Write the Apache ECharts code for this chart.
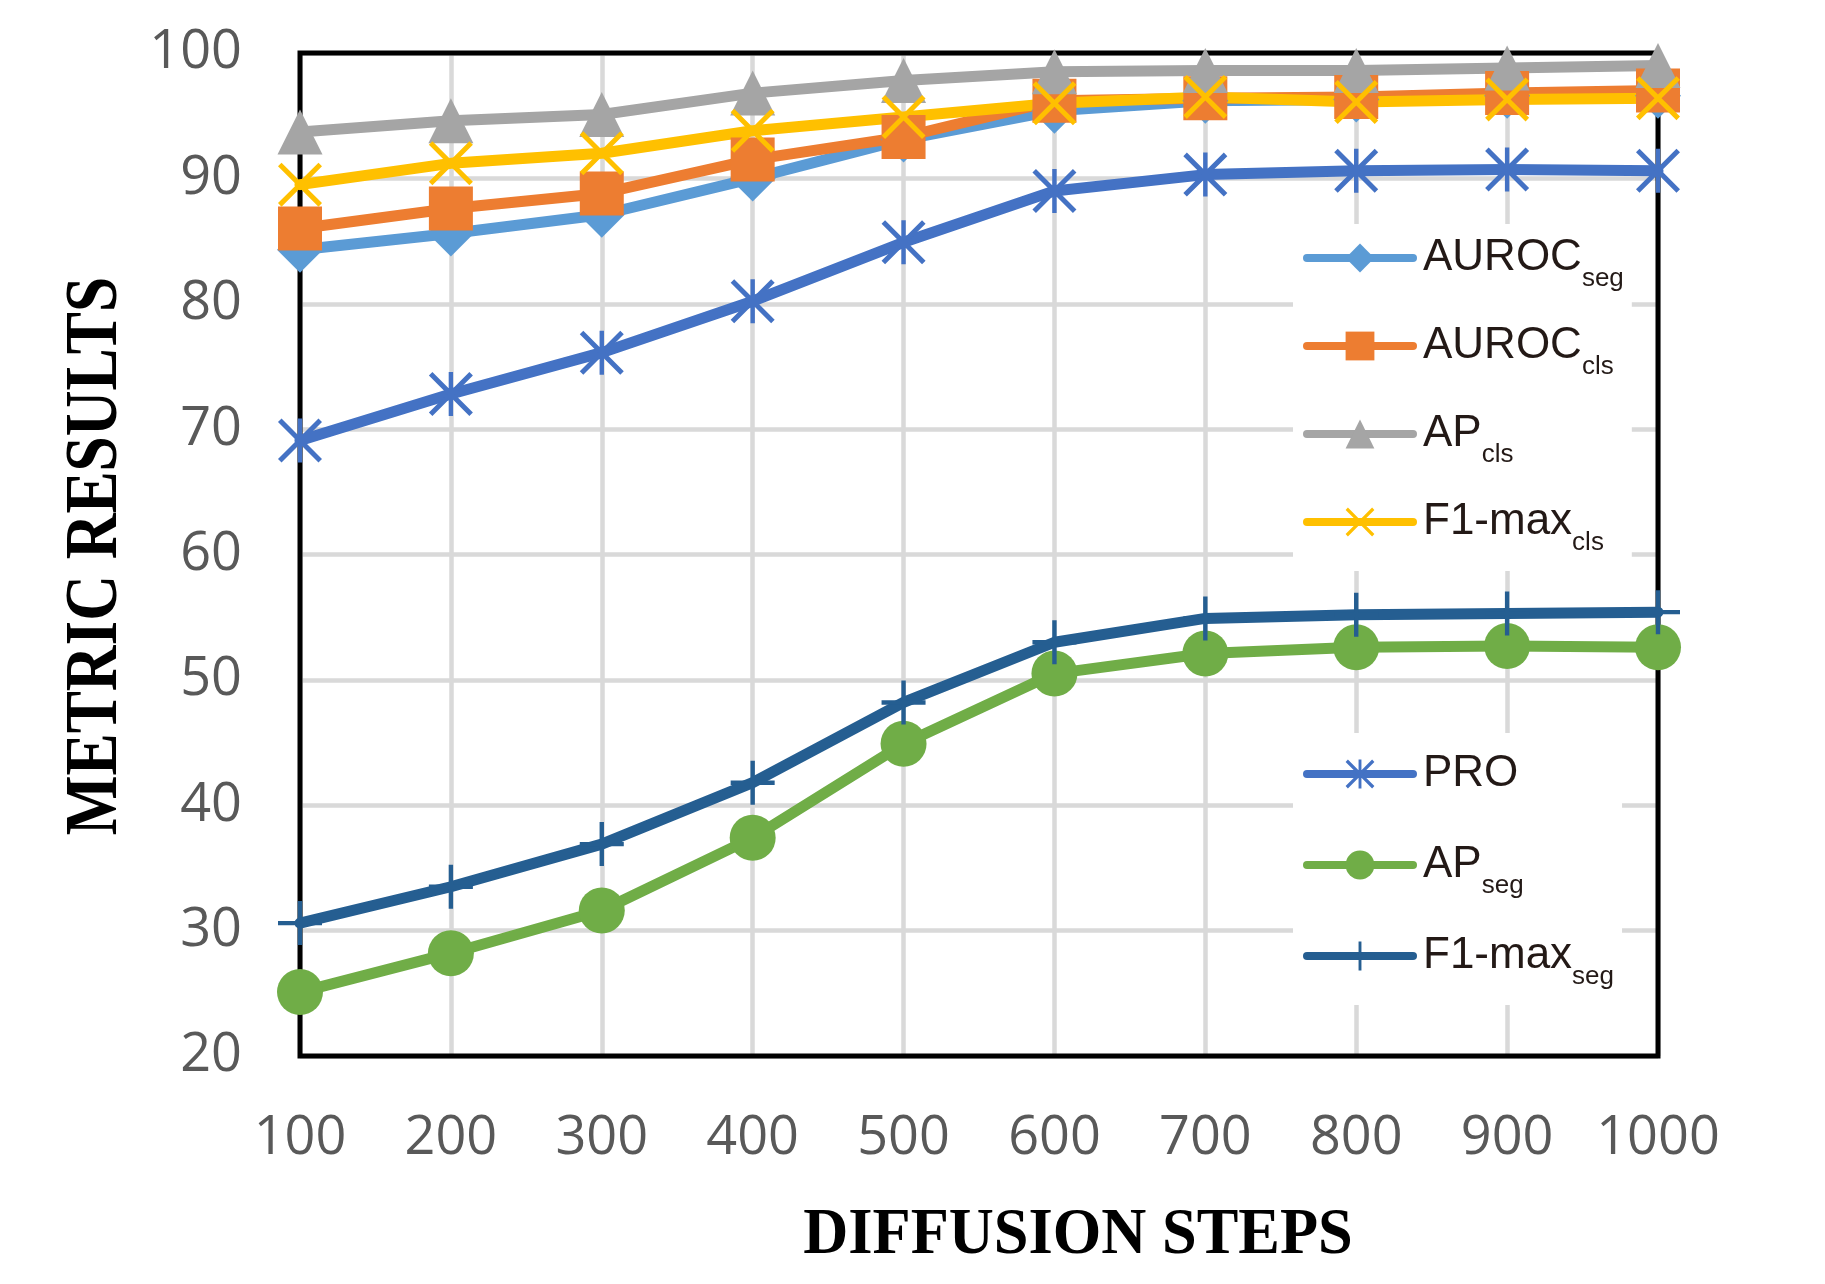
<!DOCTYPE html>
<html>
<head>
<meta charset="utf-8">
<script src="https://cdn.jsdelivr.net/npm/echarts@6/dist/echarts.min.js"></script>
<style>
  html, body { margin: 0; padding: 0; background: #fff; }
  #main { width: 1825px; height: 1284px; }
</style>
</head>
<body>
<div id="main"></div>
<script>
// diffusion steps on the x axis
var steps = ['100', '200', '300', '400', '500', '600', '700', '800', '900', '1000'];
var yTicks = [20, 100, 10]; // min, max, interval

// series values
var aurocSeg  = [84.3, 85.6, 87.1, 90.0, 93.1, 95.4, 96.2, 96.3, 96.6, 96.6];
var aurocCls  = [86.0, 87.6, 88.8, 91.5, 93.3, 96.2, 96.4, 96.5, 96.8, 97.0];
var apCls     = [93.7, 94.6, 95.1, 96.8, 97.8, 98.5, 98.6, 98.6, 98.8, 99.0];
var f1maxCls  = [89.5, 91.2, 92.0, 93.8, 94.9, 96.0, 96.5, 96.1, 96.3, 96.4];
var pro       = [69.1, 72.8, 76.1, 80.2, 84.9, 89.0, 90.3, 90.6, 90.7, 90.6];
var apSeg     = [25.1, 28.2, 31.6, 37.4, 44.9, 50.5, 52.1, 52.6, 52.7, 52.6];
var f1maxSeg  = [30.6, 33.5, 36.9, 41.8, 48.2, 53.0, 54.9, 55.2, 55.3, 55.4];

// legend names: main part + subscript
var names    = ['AUROCseg', 'AUROCcls', 'APcls', 'F1-maxcls', 'PRO', 'APseg', 'F1-maxseg'];
var mainText = ['AUROC', 'AUROC', 'AP', 'F1-max', 'PRO', 'AP', 'F1-max'];
var subText  = ['seg', 'cls', 'cls', 'cls', ' ', 'seg', 'seg'];

// marker shapes drawn as filled paths (x, asterisk, plus)
var xPath = 'M8,0 L50,42 L92,0 L100,8 L58,50 L100,92 L92,100 L50,58 L8,100 L0,92 L42,50 L0,8 Z';
var starPath = xPath + ' M45,0 L55,0 L55,100 L45,100 Z';
var plusPath = 'M45,0 L55,0 L55,45 L100,45 L100,55 L55,55 L55,100 L45,100 L45,55 L0,55 L0,45 L45,45 Z';

var myChart = echarts.init(document.getElementById('main'));

function makeSeries(i, data, color, symbol, size) {
    return {
        name: names[i],
        type: 'line',
        data: data,
        symbol: symbol,
        symbolSize: size,
        color: color,
        itemStyle: { color: color },
        lineStyle: { color: color, width: 11, cap: 'round', join: 'round' },
        emphasis: { disabled: true },
        animation: false
    };
}

var legendText = {
    color: '#231916',
    fontFamily: 'Liberation Sans',
    rich: {
        a: { fontSize: 44, lineHeight: 67, color: '#231916', fontFamily: 'Liberation Sans', padding: [0, 0, 0, 5] },
        s: { fontSize: 26, lineHeight: 25, color: '#231916', fontFamily: 'Liberation Sans', padding: [42, 0, 0, 0] }
    }
};

function legendFormatter(name) {
    var i = names.indexOf(name);
    return '{a|' + mainText[i] + '}{s|' + subText[i] + '}';
}

var option = {
    backgroundColor: '#fff',
    animation: false,
    grid: {
        left: 300, right: 167, top: 53, bottom: 228,
        show: true, borderColor: '#000', borderWidth: 5, z: 1
    },
    legend: [
        {
            data: names.slice(0, 4),
            orient: 'vertical',
            left: 1293, top: 224,
            padding: [0, 8, 15, 10],
            itemWidth: 106, itemHeight: 36, itemGap: 20,
            backgroundColor: '#fff',
            selectedMode: false,
            lineStyle: { width: 8, cap: 'round' },
            textStyle: legendText,
            formatter: legendFormatter
        },
        {
            data: names.slice(4),
            orient: 'vertical',
            left: 1293, top: 733,
            padding: [7, 8, 15, 10],
            itemWidth: 106, itemHeight: 36, itemGap: 23,
            backgroundColor: '#fff',
            selectedMode: false,
            lineStyle: { width: 8, cap: 'round' },
            textStyle: legendText,
            formatter: legendFormatter
        }
    ],
    xAxis: {
        type: 'category',
        data: steps,
        boundaryGap: false,
        axisLine: { show: false },
        axisTick: { show: false },
        axisLabel: { interval: 0, hideOverlap: false, fontSize: 54, color: '#595959', fontFamily: 'Open Sans', margin: 56 },
        splitLine: { show: true, interval: 0, lineStyle: { color: '#D9D9D9', width: 4.5 } }
    },
    yAxis: {
        type: 'value',
        min: yTicks[0], max: yTicks[1], interval: yTicks[2],
        axisLine: { show: false },
        axisTick: { show: false },
        axisLabel: { fontSize: 54, color: '#595959', fontFamily: 'Open Sans', margin: 58 },
        splitLine: { show: true, lineStyle: { color: '#D9D9D9', width: 4.5 } }
    },
    graphic: [
        {
            type: 'text', x: 97, y: 556, rotation: Math.PI / 2, scaleX: 0.855,
            style: {
                text: 'METRIC RESULTS', fill: '#000',
                fontFamily: 'Liberation Serif', fontWeight: 'bold', fontSize: 74,
                align: 'center', verticalAlign: 'middle'
            }
        },
        {
            type: 'text', x: 1078, y: 1236, scaleX: 0.96,
            style: {
                text: 'DIFFUSION STEPS', fill: '#000',
                fontFamily: 'Liberation Serif', fontWeight: 'bold', fontSize: 65,
                align: 'center', verticalAlign: 'middle'
            }
        }
    ],
    series: [
        makeSeries(0, aurocSeg, '#5B9BD5', 'diamond', 46),
        makeSeries(1, aurocCls, '#ED7D31', 'rect', 44),
        makeSeries(2, apCls, '#A5A5A5', 'triangle', 45),
        makeSeries(3, f1maxCls, '#FFC000', 'path://' + xPath, 44),
        makeSeries(4, pro, '#4472C4', 'path://' + starPath, 44),
        makeSeries(5, apSeg, '#70AD47', 'circle', 46),
        makeSeries(6, f1maxSeg, '#255E91', 'path://' + plusPath, 44)
    ]
};

myChart.setOption(option);
</script>
</body>
</html>
